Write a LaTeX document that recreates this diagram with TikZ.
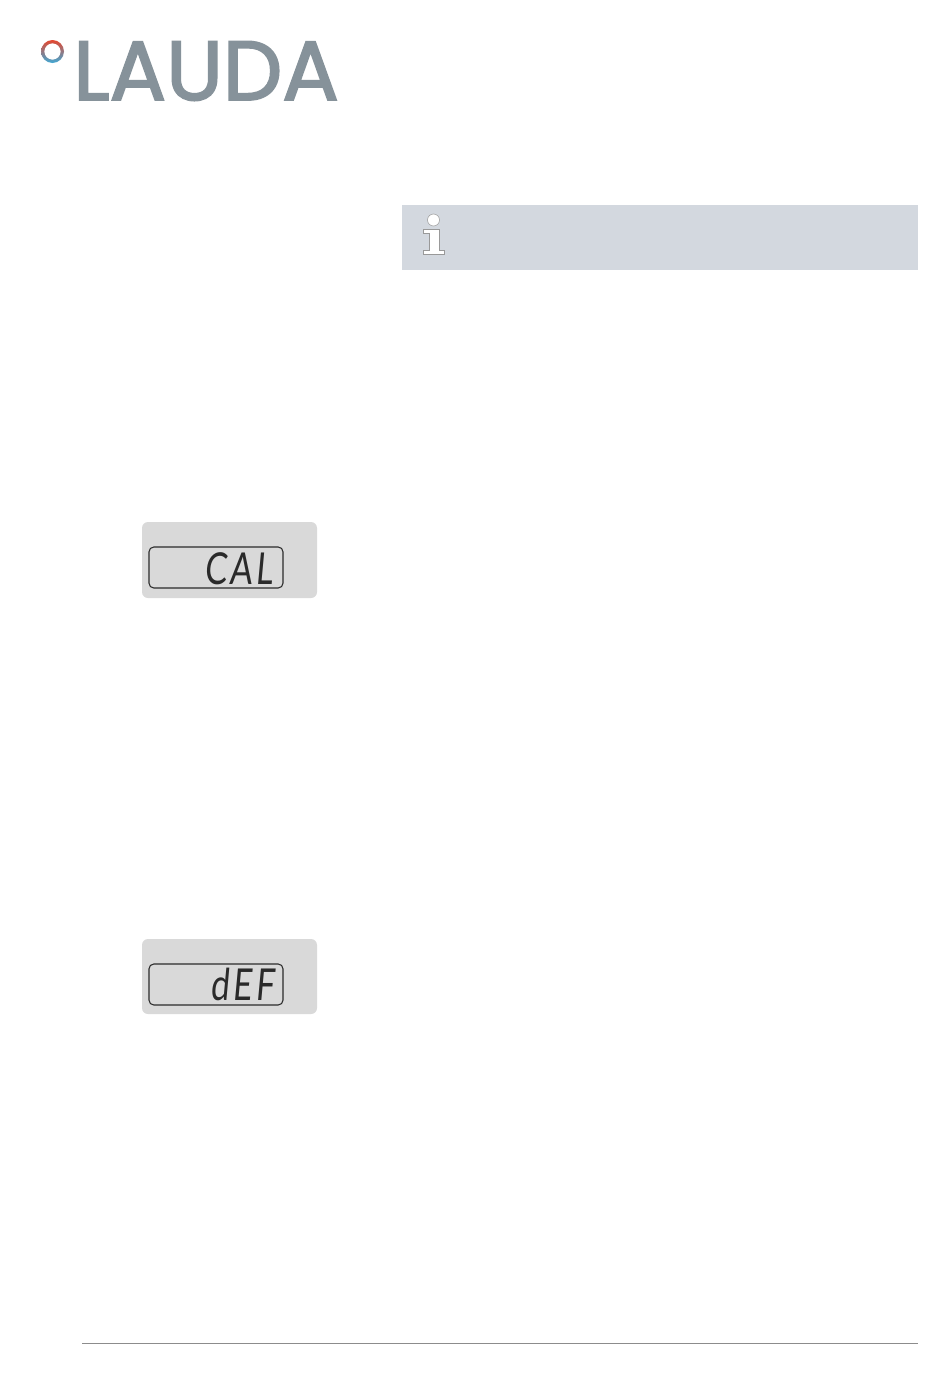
\documentclass[tikz,border=0pt]{standalone}
\usepackage{fontspec}
\setmainfont{Poppins}
\newfontfamily\logofont[FakeBold=2.2]{Poppins}
\newfontfamily\lcdfont{Lato}
\definecolor{logogrey}{HTML}{86929A}
\definecolor{infobar}{HTML}{D3D8DF}
\definecolor{panelgrey}{HTML}{D9D9D9}
\definecolor{lcdink}{HTML}{2A2A2A}
\definecolor{ringred}{HTML}{E4472F}
\definecolor{ringmid}{HTML}{A08C88}
\definecolor{ringblue}{HTML}{3FA9D6}
\tikzset{
  panel/.style={fill=panelgrey,draw=none,rounded corners=4.5pt},
  lcdframe/.style={draw=lcdink,line width=0.8pt,rounded corners=3.6pt},
  lcdtext/.style={inner sep=0pt,text=lcdink,anchor=base east,xscale=0.76,xslant=0.12,transform shape,font=\lcdfont\fontsize{33}{33}\selectfont},
  iconpart/.style={fill=white,draw=black!40,line width=0.4pt}
}
\begin{document}
\begin{tikzpicture}[x=0.75pt,y=-0.75pt]
\useasboundingbox (0,0) rectangle (950,1378);
\fill[white] (0,0) rectangle (950,1378);
% logo
\shade[top color=ringred,middle color=ringmid,bottom color=ringblue,even odd rule]
  (52.5,51.5) circle[radius=11.5] (52.5,51.5) circle[radius=8.2];
\node[anchor=base west,inner sep=0pt,text=logogrey] (logo) at (73,100)
  {\logofont\fontsize{63}{63}\selectfont LAUDA};
% info bar
\fill[infobar] (402,205) rectangle (918,270);
\draw[iconpart] (433.5,220) circle[radius=6];
\draw[iconpart] (423,229) -- (439,229) -- (439,250) -- (444,250) -- (444,254) -- (423,254)
  -- (423,250) -- (429,250) -- (429,233) -- (423,233) -- cycle;
% first display
\path[panel] (142,522) rectangle (317,598);
\path[lcdframe] (149,547) rectangle (283,588);
\node[lcdtext] (cal) at (273,584) {C\kern3pt A\kern3pt L};
% second display
\path[panel] (142,939) rectangle (317,1014);
\path[lcdframe] (149,964) rectangle (283,1005);
\node[lcdtext] (def) at (275,1000) {d\kern3.5pt E\kern4pt F};
% footer
\draw[black!45,line width=0.6pt] (82,1343.5) -- (918,1343.5);
\end{tikzpicture}
\end{document}
